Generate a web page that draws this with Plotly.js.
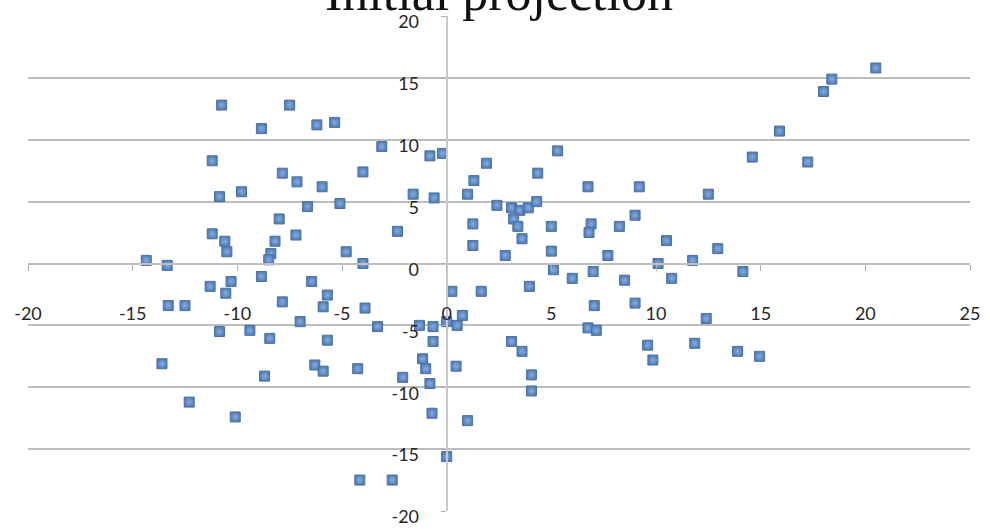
<!DOCTYPE html>
<html>
<head>
<meta charset="utf-8">
<script src="https://cdn.plot.ly/plotly-3.0.1.min.js"></script>
<style>html,body{margin:0;padding:0;background:#fff;}#chart{width:990px;height:529px;}</style>
</head>
<body>
<div id="chart"></div>
<script>
const chartTitle = "Initial projection";
const xTickVals = [-20, -15, -10, -5, 0, 5, 10, 15, 20, 25];
const yTickVals = [-20, -15, -10, -5, 0, 5, 10, 15, 20];

const xs = [
  20.5, 18.4, 18.0, 15.9, 14.6, 17.25, 12.5, 5.3, 4.35, 6.75,
  9.2, 9.0, 8.25, 10.5, 12.95, 7.7, 10.1, 11.75, 14.15, 10.75,
  8.5, 9.0, 12.4, 9.6, 9.85, 11.85, 13.9, 14.95, 6.9, 6.8,
  7.0, 7.05, 6.75, 7.15, 6.0, 5.0, 5.0, 5.1, 3.95, 1.65,
  0.25, 2.8, 1.25, 1.25, 3.1, 3.5, 3.9, 4.3, 3.2, 3.4,
  3.6, 2.4, 1.9, 1.3, 1.0, -0.8, -0.2, -1.6, -0.6, 3.1,
  3.6, 4.05, 4.05, -1.3, -0.65, 0.0, 0.5, 0.75, -0.65, -1.15,
  -1.0, -0.8, 0.45, -2.1, -0.7, 1.0, 0.0, -4.15, -2.6,
  -10.85, -9.8, -7.85, -7.15, -5.95, -6.65, -5.1, -4.0, -8.0, -7.2,
  -11.2, -10.6, -10.5, -8.2, -8.4, -8.5, -2.35, -4.8, -4.0, -14.35,
  -13.35, -8.85, -11.3, -10.3, -10.55, -6.45, -5.7, -5.9, -7.85, -13.3,
  -12.5, -10.85, -9.4, -8.45, -7.0, -5.7, -3.9, -3.3, -4.25, -6.3,
  -5.9, -13.6, -8.7, -12.3, -10.1, -10.75, -7.5, -8.85, -6.2, -5.35,
  -3.1, -11.2
];
const ys = [
  15.8, 14.9, 13.9, 10.7, 8.6, 8.2, 5.6, 9.1, 7.3, 6.2,
  6.2, 3.9, 3.0, 1.85, 1.2, 0.65, 0.0, 0.25, -0.65, -1.2,
  -1.35, -3.2, -4.45, -6.6, -7.8, -6.45, -7.1, -7.5, 3.2, 2.5,
  -0.65, -3.4, -5.2, -5.4, -1.2, 3.0, 1.0, -0.5, -1.85, -2.25,
  -2.25, 0.65, 3.2, 1.45, 4.5, 4.3, 4.5, 5.0, 3.6, 3.0,
  2.0, 4.7, 8.1, 6.7, 5.6, 8.7, 8.9, 5.6, 5.3, -6.3,
  -7.1, -9.0, -10.3, -5.0, -5.1, -4.7, -5.0, -4.2, -6.3, -7.7,
  -8.5, -9.7, -8.3, -9.2, -12.1, -12.7, -15.6, -17.5, -17.5,
  5.4, 5.8, 7.3, 6.6, 6.2, 4.6, 4.85, 7.4, 3.6, 2.3,
  2.4, 1.8, 0.95, 1.8, 0.8, 0.3, 2.6, 0.95, 0.0, 0.25,
  -0.15, -1.05, -1.85, -1.45, -2.4, -1.45, -2.55, -3.5, -3.1, -3.4,
  -3.4, -5.5, -5.4, -6.05, -4.7, -6.2, -3.6, -5.1, -8.5, -8.2,
  -8.7, -8.1, -9.1, -11.2, -12.4, 12.8, 12.8, 10.9, 11.2, 11.4,
  9.45, 8.3
];

const trace = {
  type: 'scatter',
  mode: 'markers',
  x: xs,
  y: ys,
  marker: {
    symbol: 'square',
    size: 10,
    color: '#4f7fbf',
    gradient: {type: 'radial', color: '#86acdd'},
    line: {color: '#4d6f9a', width: 1}
  },
  hoverinfo: 'none'
};

const tickFont = {family: 'Lato, "Open Sans", sans-serif', size: 18, color: '#262626'};

const layout = {
  width: 990,
  height: 529,
  margin: {l: 28, r: 20, t: 16, b: 18, pad: 0},
  paper_bgcolor: '#ffffff',
  plot_bgcolor: '#ffffff',
  showlegend: false,
  xaxis: {
    range: [-20, 25],
    tickvals: xTickVals,
    ticktext: xTickVals.map(String),
    showgrid: false,
    zeroline: false,
    showline: true,
    linecolor: '#c0c0c0',
    linewidth: 2,
    anchor: 'free',
    position: 0.5,
    ticks: 'outside',
    ticklen: 6,
    tickwidth: 1,
    tickcolor: '#b0b0b0',
    tickfont: tickFont,
    ticklabelstandoff: 28,
    fixedrange: true
  },
  yaxis: {
    range: [-20, 20],
    tickvals: yTickVals,
    ticktext: yTickVals.map(String),
    showgrid: true,
    gridcolor: '#bdbdbd',
    gridwidth: 2,
    zeroline: false,
    showline: true,
    linecolor: '#c8c8c8',
    linewidth: 2,
    anchor: 'free',
    position: 20 / 45,
    ticks: 'outside',
    ticklen: 5,
    tickwidth: 1,
    tickcolor: '#b0b0b0',
    tickfont: tickFont,
    ticklabelstandoff: 18,
    ticklabelshift: 6,
    fixedrange: true
  },
  annotations: [{
    text: chartTitle,
    xref: 'paper', yref: 'paper',
    x: 0.5, y: 0.986,
    xanchor: 'center', yanchor: 'bottom',
    showarrow: false,
    font: {family: '"Liberation Serif", "Times New Roman", serif', size: 52, color: '#111111'}
  }]
};

Plotly.newPlot('chart', [trace], layout, {staticPlot: true, displayModeBar: false});
</script>
</body>
</html>
